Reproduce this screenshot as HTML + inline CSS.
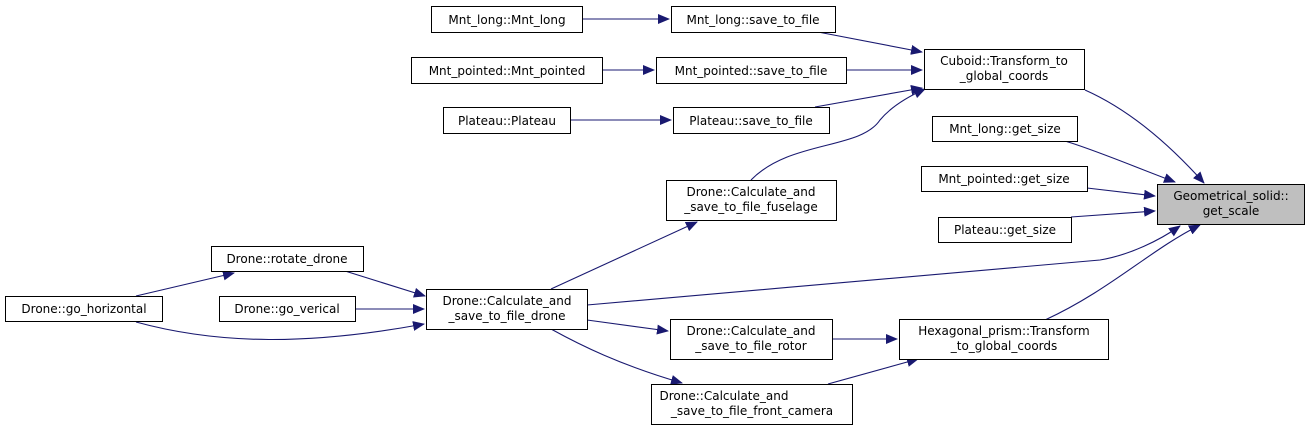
<!DOCTYPE html>
<html><head><meta charset="utf-8"><style>
html,body{margin:0;padding:0;background:#fff;}
svg text{font-family:"DejaVu Sans","Liberation Sans",sans-serif;font-size:12px;fill:#000;}
</style></head><body>
<svg width="1311" height="430" viewBox="0 0 1311 430" xmlns="http://www.w3.org/2000/svg">
<defs><marker id="a" markerWidth="12" markerHeight="10" refX="11" refY="5" orient="auto" markerUnits="userSpaceOnUse"><polygon points="0,0 12,5 0,10" fill="#191970"/></marker></defs>
<g fill="none" stroke="#191970" stroke-width="1.1" marker-end="url(#a)">
<path d="M582,19 L669,19"/>
<path d="M602,70 L654,70"/>
<path d="M570,120 L671,120"/>
<path d="M818,32 L922,52"/>
<path d="M846,70 L922,70"/>
<path d="M815,107 L922,88"/>
<path d="M751,180 C790,140 860,150 880,120 C890,108 905,98 925,89"/>
<path d="M1085,90 C1130,110 1170,145 1204,183"/>
<path d="M1065,141 C1095,150 1130,165 1175,182"/>
<path d="M1087,188 L1155,196"/>
<path d="M1071,217 L1155,211"/>
<path d="M587,305 C750,290 1000,270 1100,260 C1130,255 1160,240 1180,226"/>
<path d="M1045,320 C1110,290 1150,250 1200,225"/>
<path d="M551,289 L697,222"/>
<path d="M136,296 L234,273"/>
<path d="M345,271 L425,296"/>
<path d="M354,309 L424,309"/>
<path d="M136,322 C220,345 310,345 424,324"/>
<path d="M587,320 L668,331"/>
<path d="M551,329 C580,345 620,365 682,383"/>
<path d="M833,339 L897,339"/>
<path d="M828,384 L918,359"/>
</g>
<g fill="#fff" stroke="#000" stroke-width="1">
<rect x="431.5" y="6.5" width="151" height="26"/>
<rect x="671.5" y="6.5" width="164" height="26"/>
<rect x="411.5" y="57.5" width="191" height="26"/>
<rect x="656.5" y="57.5" width="190" height="26"/>
<rect x="443.5" y="107.5" width="127" height="26"/>
<rect x="673.5" y="107.5" width="156" height="26"/>
<rect x="924.5" y="49.5" width="160" height="40"/>
<rect x="932.5" y="116.5" width="145" height="25"/>
<rect x="921.5" y="166.5" width="166" height="25"/>
<rect x="938.5" y="217.5" width="133" height="25"/>
<rect x="1157.5" y="184.5" width="147" height="40" fill="#bfbfbf"/>
<rect x="666.5" y="180.5" width="170" height="40"/>
<rect x="211.5" y="246.5" width="152" height="25"/>
<rect x="219.5" y="296.5" width="136" height="25"/>
<rect x="5.5" y="296.5" width="157" height="25"/>
<rect x="426.5" y="289.5" width="161" height="40"/>
<rect x="670.5" y="319.5" width="162" height="40"/>
<rect x="899.5" y="319.5" width="209" height="40"/>
<rect x="651.5" y="384.5" width="201" height="40"/>
</g>
<g text-anchor="middle">
<text x="507" y="24">Mnt_long::Mnt_long</text>
<text x="753" y="24">Mnt_long::save_to_file</text>
<text x="507" y="75">Mnt_pointed::Mnt_pointed</text>
<text x="751" y="75">Mnt_pointed::save_to_file</text>
<text x="507" y="125">Plateau::Plateau</text>
<text x="751" y="125">Plateau::save_to_file</text>
<text x="1004" y="65">Cuboid::Transform_to</text>
<text x="1004" y="80">_global_coords</text>
<text x="1005" y="133">Mnt_long::get_size</text>
<text x="1004" y="183">Mnt_pointed::get_size</text>
<text x="1005" y="234">Plateau::get_size</text>
<text x="1231" y="200">Geometrical_solid::</text>
<text x="1231" y="215">get_scale</text>
<text x="751" y="196">Drone::Calculate_and</text>
<text x="751" y="211">_save_to_file_fuselage</text>
<text x="287" y="263">Drone::rotate_drone</text>
<text x="287" y="313">Drone::go_verical</text>
<text x="84" y="313">Drone::go_horizontal</text>
<text x="507" y="305">Drone::Calculate_and</text>
<text x="507" y="320">_save_to_file_drone</text>
<text x="751" y="335">Drone::Calculate_and</text>
<text x="751" y="350">_save_to_file_rotor</text>
<text x="1004" y="335">Hexagonal_prism::Transform</text>
<text x="1004" y="350">_to_global_coords</text>
<text x="724" y="400">Drone::Calculate_and</text>
<text x="752" y="415">_save_to_file_front_camera</text>
</g>
</svg>
</body></html>
